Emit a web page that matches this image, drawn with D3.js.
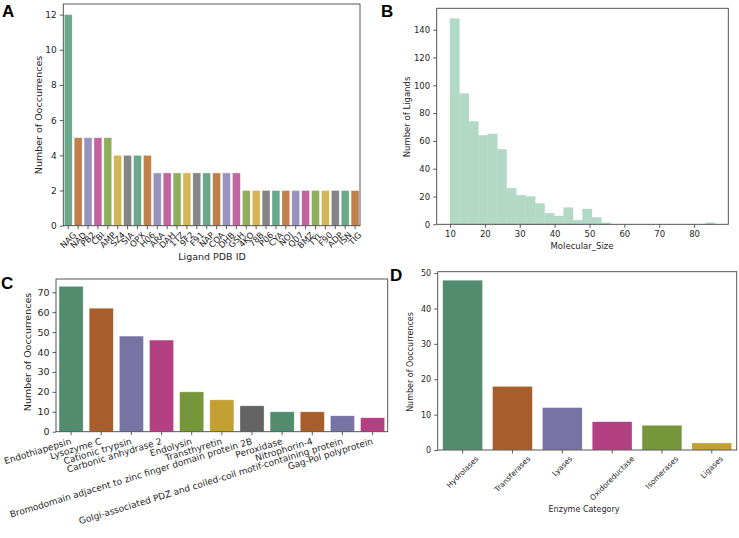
<!DOCTYPE html>
<html><head><meta charset="utf-8">
<script src="https://cdn.jsdelivr.net/npm/d3@7"></script>
<style>body{margin:0;background:#fff}</style>
</head><body><svg id="c" width="739" height="538"></svg>
<script>
// ---------- DATA ----------
const ligandIds = ["NAG","NAD","PB2","CBI","AMP","SZ4","SIA","OPX","H06","ARA","DAH","1TZ","9F2","F91","NAP","COA","DHB","GSH","4KO","78B","P06","CYA","NOJ","Q07","BMZ","TYL","F90","ADP","ISN","TIG"];
const ligandCounts = [12,5,5,5,5,4,4,4,4,3,3,3,3,3,3,3,3,3,2,2,2,2,2,2,2,2,2,2,2,2];
const ligandTicks = [0,2,4,6,8,10,12];

const sizeRange = [10, 86];
const sizeBinCounts = [148,94,74,64,65,54,26,21,20,15,8,6,12,3,11,5,1,0,0,0,0,0,0,0,0,0,0,1];
const sizeXTicks = [10,20,30,40,50,60,70,80];
const sizeYTicks = [0,20,40,60,80,100,120,140];

const proteinNames = ["Endothiapepsin","Lysozyme C","Cationic trypsin","Carbonic anhydrase 2","Endolysin","Transthyretin","Bromodomain adjacent to zinc finger domain protein 2B","Peroxidase","Nitrophorin-4","Golgi-associated PDZ and coiled-coil motif-containing protein","Gag-Pol polyprotein"];
const proteinCounts = [73,62,48,46,20,16,13,10,10,8,7];
const proteinTicks = [0,10,20,30,40,50,60,70];

const enzymeCategories = ["Hydrolases","Transferases","Lyases","Oxidoreductase","Isomerases","Ligases"];
const enzymeCounts = [48,18,12,8,7,2];
const enzymeTicks = [0,10,20,30,40,50];

const paletteLight = ["#6aa88c","#c0804c","#9893be","#c364a0","#8fae5c","#d4b657","#858585"];
const paletteDark = ["#528c6e","#a85e2a","#7873a5","#b24082","#76963a","#c2a032","#646464"];
const histColor = "#b2d8c6";

// ---------- DRAW ----------
const svg = d3.select("#c");
svg.append("rect").attr("width",739).attr("height",538).attr("fill","#fff");
const FONT = "DejaVu Sans, sans-serif";
const TXT = "#262626";

function yAxis(g, box, y, ticks, fs) {
  const ax = g.append("g").attr("transform",`translate(${box.l},0)`)
    .call(d3.axisLeft(y).tickValues(ticks).tickSize(3.5).tickPadding(3).tickFormat(d3.format("d")));
  ax.select(".domain").remove();
  ax.selectAll("line").attr("stroke","#333").attr("stroke-width",0.8);
  ax.selectAll("text").attr("font-family",FONT).attr("font-size",fs).attr("fill",TXT);
}
function frame(g, box) {
  g.append("rect").attr("x",box.l).attr("y",box.t).attr("width",box.r-box.l).attr("height",box.b-box.t)
    .attr("fill","none").attr("stroke","#444").attr("stroke-width",0.9);
}
function bandTicks(g, box, x, names) {
  g.selectAll(null).data(names).enter().append("line")
    .attr("x1",d=>x(d)+x.bandwidth()/2).attr("x2",d=>x(d)+x.bandwidth()/2)
    .attr("y1",box.b).attr("y2",box.b+3.5).attr("stroke","#333").attr("stroke-width",0.8);
}
function centerRotLabels(g, box, x, names, angle, fs) {
  const rad = angle*Math.PI/180;
  names.forEach(n => {
    const t = g.append("text").text(n).attr("font-family",FONT).attr("font-size",fs).attr("fill",TXT)
      .attr("text-anchor","middle").attr("dominant-baseline","central");
    const w = t.node().getComputedTextLength();
    const h = fs*0.9;
    const bh = w*Math.sin(rad) + h*Math.cos(rad);
    const cx = x(n)+x.bandwidth()/2, cy = box.b + 5 + bh/2;
    t.attr("transform",`translate(${cx},${cy}) rotate(${-angle})`);
  });
}
function yLabel(g, text, x, y, fs) {
  g.append("text").text(text).attr("font-family",FONT).attr("font-size",fs).attr("fill",TXT)
    .attr("text-anchor","middle").attr("transform",`translate(${x},${y}) rotate(-90)`);
}
function xLabel(g, text, x, y, fs) {
  g.append("text").text(text).attr("font-family",FONT).attr("font-size",fs).attr("fill",TXT)
    .attr("text-anchor","middle").attr("x",x).attr("y",y);
}
function panelLetter(text, x, y) {
  svg.append("text").text(text).attr("x",x).attr("y",y).attr("font-family","Liberation Sans, Arial, sans-serif")
    .attr("font-weight","bold").attr("font-size",17).attr("fill","#000");
}
function barPanel(box, names, vals, ticks, pal, yfs) {
  const g = svg.append("g");
  const x = d3.scaleBand().domain(names).range([box.l, box.r]).paddingInner(0.2).paddingOuter(0.1);
  const y = d3.scaleLinear().domain([0, d3.max(vals)*1.05]).range([box.b, box.t]);
  g.selectAll(null).data(names).enter().append("rect")
    .attr("x",d=>x(d)).attr("width",x.bandwidth())
    .attr("y",(d,i)=>y(vals[i])).attr("height",(d,i)=>box.b-y(vals[i]))
    .attr("fill",(d,i)=>pal[i%pal.length]).attr("stroke","#ffffff").attr("stroke-opacity",0.6).attr("stroke-width",0.6);
  yAxis(g, box, y, ticks, yfs);
  bandTicks(g, box, x, names);
  frame(g, box);
  return {g, x, y};
}

// Panel A
const boxA = {l:63.3, t:4, r:360, b:225.7};
const A = barPanel(boxA, ligandIds, ligandCounts, ligandTicks, paletteLight, 9);
centerRotLabels(A.g, boxA, A.x, ligandIds, 45, 8.5);
xLabel(A.g, "Ligand PDB ID", 212, 260, 9.5);
yLabel(A.g, "Number of Ooccurrences", 42, 115, 9.5);
panelLetter("A", 2, 17);

// Panel B
const boxB = {l:436.7, t:8.3, r:728.3, b:224.3};
{
  const g = svg.append("g");
  const n = sizeBinCounts.length;
  const span = sizeRange[1]-sizeRange[0], pad = span*0.05;
  const x = d3.scaleLinear().domain([sizeRange[0]-pad, sizeRange[1]+pad]).range([boxB.l, boxB.r]);
  const y = d3.scaleLinear().domain([0, d3.max(sizeBinCounts)*1.05]).range([boxB.b, boxB.t]);
  const bw = span/n;
  g.selectAll(null).data(sizeBinCounts).enter().append("rect")
    .attr("x",(d,i)=>x(sizeRange[0]+i*bw)).attr("width",(d,i)=>x(sizeRange[0]+(i+1)*bw)-x(sizeRange[0]+i*bw))
    .attr("y",d=>y(d)).attr("height",d=>boxB.b-y(d)).attr("fill",histColor)
    .attr("stroke",histColor).attr("stroke-width",0.3);
  yAxis(g, boxB, y, sizeYTicks, 8.5);
  const ax = g.append("g").attr("transform",`translate(0,${boxB.b})`)
    .call(d3.axisBottom(x).tickValues(sizeXTicks).tickSize(3.5).tickPadding(3).tickFormat(d3.format("d")));
  ax.select(".domain").remove();
  ax.selectAll("line").attr("stroke","#333").attr("stroke-width",0.8);
  ax.selectAll("text").attr("font-family",FONT).attr("font-size",8.5).attr("fill",TXT);
  frame(g, boxB);
  xLabel(g, "Molecular_Size", 582, 249, 8.5);
  yLabel(g, "Number of Ligands", 410, 117, 8.5);
}
panelLetter("B", 381, 17);

// Panel C
const boxC = {l:56, t:279, r:387.7, b:431.7};
const C = barPanel(boxC, proteinNames, proteinCounts, proteinTicks, paletteDark, 9.5);
proteinNames.forEach(n => {
  const cx = C.x(n)+C.x.bandwidth()/2;
  C.g.append("text").text(n).attr("font-family",FONT).attr("font-size",9).attr("fill",TXT)
    .attr("text-anchor","end").attr("dominant-baseline","hanging")
    .attr("transform",`translate(${cx-1},${boxC.b+6}) rotate(-17)`);
});
yLabel(C.g, "Number of Ooccurrences", 31, 352, 9.5);
panelLetter("C", 1, 289);

// Panel D
const boxD = {l:437.7, t:271.7, r:736.7, b:450};
const D = barPanel(boxD, enzymeCategories, enzymeCounts, enzymeTicks, paletteDark, 8);
centerRotLabels(D.g, boxD, D.x, enzymeCategories, 45, 7.5);
xLabel(D.g, "Enzyme Category", 584, 512, 8);
yLabel(D.g, "Number of Ooccurrences", 413, 362, 8);
panelLetter("D", 390, 281);
</script></body></html>
